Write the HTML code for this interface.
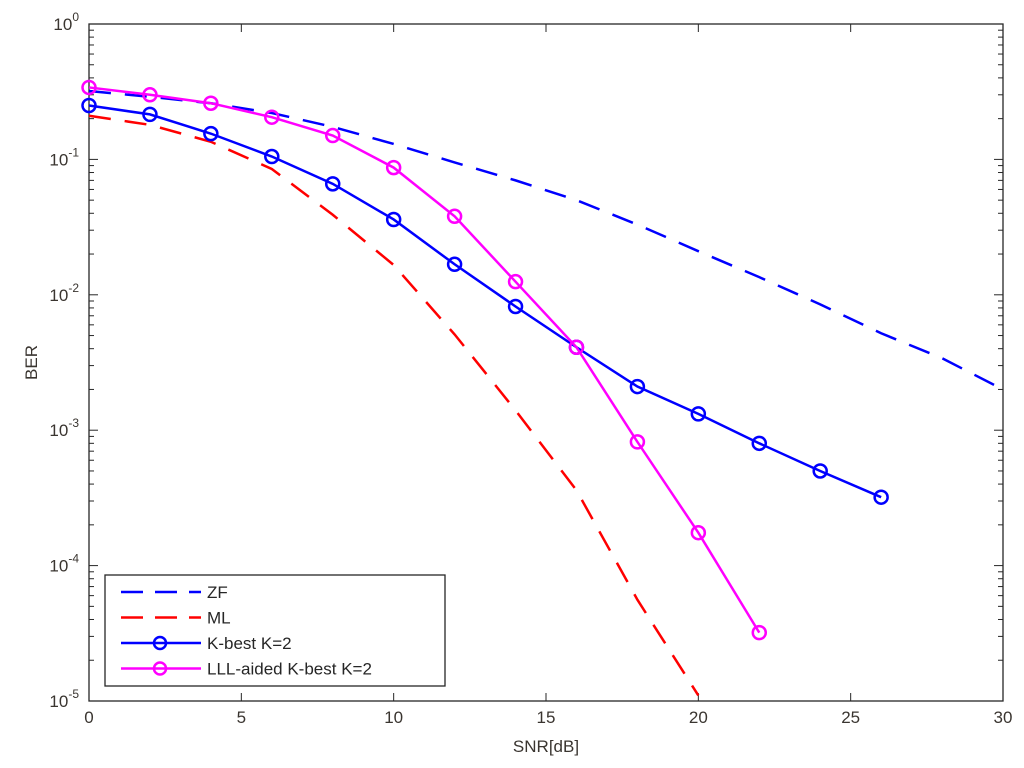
<!DOCTYPE html>
<html><head><meta charset="utf-8"><style>
body{margin:0;background:#fff;}
svg{display:block;font-family:"Liberation Sans",Arial,sans-serif;}
</style></head><body>
<svg id="chart" width="1024" height="768">
<rect x="0" y="0" width="1024" height="768" fill="#fff"/>
<g id="plot"></g>
</svg>
<script>
const snrZF=[0,2,4,6,8,10,12,14,16,18,20,22,24,26,28,30];
const berZF=[0.32,0.29,0.26,0.22,0.174,0.13,0.095,0.07,0.05,0.033,0.021,0.0135,0.0085,0.0052,0.0034,0.002];
const snrML=[0,2,4,6,8,10,12,14,16,18,20];
const berML=[0.21,0.18,0.135,0.085,0.039,0.0166,0.0051,0.0014,0.00036,0.000056,0.000011];
const snrKB=[0,2,4,6,8,10,12,14,16,18,20,22,24,26];
const berKB=[0.25,0.215,0.155,0.105,0.066,0.036,0.0168,0.0082,0.0041,0.0021,0.00132,0.0008,0.0005,0.00032];
const snrLLL=[0,2,4,6,8,10,12,14,16,18,20,22];
const berLLL=[0.34,0.30,0.26,0.205,0.15,0.087,0.038,0.0125,0.0041,0.00082,0.000175,0.000032];
const xTicks=[0,5,10,15,20,25,30];
const yDecades=[0,-1,-2,-3,-4,-5];

const L=89,R=1003,T=24,B=701;
const xs=v=>L+(v-0)/(30-0)*(R-L);
const ys=v=>T+(-Math.log10(v))/5*(B-T);
const NS="http://www.w3.org/2000/svg";
const g=document.getElementById('plot');
function mk(tag,attrs,parent){const e=document.createElementNS(NS,tag);for(const k in attrs)e.setAttribute(k,attrs[k]);(parent||g).appendChild(e);return e;}

// axes box
const box=mk('rect',{x:L,y:T,width:R-L,height:B-T,fill:'none',stroke:'#262626','stroke-width':1.3});



// x ticks
xTicks.forEach(t=>{
  const x=xs(t);
  mk('line',{x1:x,y1:B,x2:x,y2:B-8,stroke:'#262626'});
  mk('line',{x1:x,y1:T,x2:x,y2:T+8,stroke:'#262626'});
  const tx=mk('text',{x:x,y:B+22,'text-anchor':'middle','font-size':17,fill:'#3a3530'});
  tx.textContent=t;
  
  
});
// y ticks
yDecades.forEach(d=>{
  const y=ys(Math.pow(10,d));
  mk('line',{x1:L,y1:y,x2:L+9,y2:y,stroke:'#262626'});
  mk('line',{x1:R,y1:y,x2:R-9,y2:y,stroke:'#262626'});
  if(d>-5){for(let m=2;m<=9;m++){const yy=ys(m*Math.pow(10,d-1));
    mk('line',{x1:L,y1:yy,x2:L+5,y2:yy,stroke:'#262626'});
    mk('line',{x1:R,y1:yy,x2:R-5,y2:yy,stroke:'#262626'});}}
  const tx=mk('text',{x:L-10,y:y+6,'text-anchor':'end','font-size':17,fill:'#3a3530'});
  
  
  tx.appendChild(document.createTextNode('10'));
  const sp=mk('tspan',{dy:-9,'font-size':12},tx);sp.textContent=String(d);
});
const xl=mk('text',{x:(L+R)/2,y:752,'text-anchor':'middle','font-size':17,fill:'#3a3530'});
xl.textContent='SNR[dB]';


const yl=mk('text',{x:0,y:0,'text-anchor':'middle','font-size':17,fill:'#3a3530',transform:`translate(37,${(T+B)/2}) rotate(-90)`});
yl.textContent='BER';



function series(xsArr,ysArr,color,dash,marker,name){
  const cg=mk('g',{});
  
  
  const pts=xsArr.map((x,i)=>{let y=ys(ysArr[i]);return xs(x)+','+y;}).join(' ');
  mk('polyline',{points:pts,fill:'none',stroke:color,'stroke-width':2.5,'stroke-dasharray':dash||'none'},cg);
  if(marker)xsArr.forEach((x,i)=>{
    const c=mk('circle',{cx:xs(x),cy:ys(ysArr[i]),r:6.5,fill:'none',stroke:color,'stroke-width':2.5},cg);
    
    
  });
}
const clip=mk('clipPath',{id:'cp'});mk('rect',{x:L,y:T,width:R-L,height:B-T},clip);
series(snrZF,berZF,'#0000ff','22,14',false,'zf-line');
series(snrML,berML,'#ff0000','22,14',false,'ml-line');
series(snrKB,berKB,'#0000ff',null,true,'kbest-line');
series(snrLLL,berLLL,'#ff00ff',null,true,'lll-kbest-line');

// legend
const lg=mk('g',{});


mk('rect',{x:105,y:575,width:340,height:111,fill:'#fff',stroke:'#262626','stroke-width':1.3},lg);
const entries=[['ZF','#0000ff','22,12',false],['ML','#ff0000','22,12',false],['K-best K=2','#0000ff',null,true],['LLL-aided K-best K=2','#ff00ff',null,true]];
entries.forEach((e,i)=>{
  const y=592+i*25.5;
  const eg=mk('g',{},lg);
  
  
  mk('line',{x1:121,y1:y,x2:201,y2:y,stroke:e[1],'stroke-width':2.5,'stroke-dasharray':e[2]||'none'},eg);
  if(e[3])mk('circle',{cx:160,cy:y,r:6,fill:'none',stroke:e[1],'stroke-width':2.5},eg);
  const t=mk('text',{x:207,y:y+6,'font-size':17,fill:'#262626'},eg);t.textContent=e[0];
});
</script>
</body></html>
